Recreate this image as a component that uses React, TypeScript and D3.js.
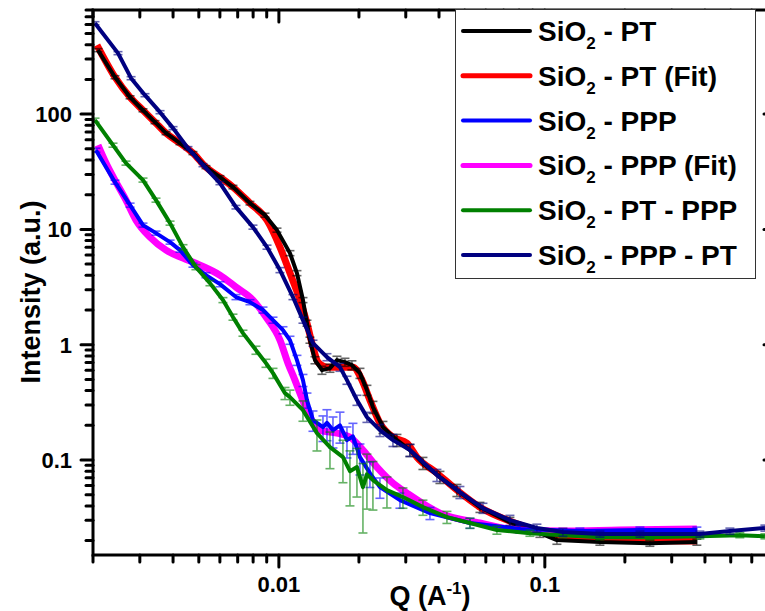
import React from 'react';
import * as d3 from 'd3';

// [q, intensity, relative error]
type Row = [number, number, number];
type FitRow = [number, number];

const ptData: Row[] = [
  [0.002088, 359, 0.03], [0.00242, 209, 0.03], [0.002757, 140, 0.03], [0.003083, 108, 0.03],
  [0.003421, 85.2, 0.03], [0.003764, 68.4, 0.03], [0.004247, 56.0, 0.03], [0.004752, 45.9, 0.03],
  [0.005318, 34.7, 0.03], [0.006003, 28.4, 0.03], [0.006719, 23.3, 0.035], [0.007784, 16.9, 0.035],
  [0.008866, 13.3, 0.04], [0.009836, 9.86, 0.04], [0.011006, 6.23, 0.05], [0.011693, 4.18, 0.05],
  [0.012318, 2.44, 0.05], [0.012751, 1.539, 0.06], [0.013087, 1.096, 0.06], [0.013667, 0.735, 0.07],
  [0.01452, 0.602, 0.08], [0.015562, 0.627, 0.08], [0.016534, 0.735, 0.08], [0.017718, 0.706, 0.08],
  [0.018823, 0.665, 0.09], [0.020175, 0.567, 0.1], [0.021431, 0.404, 0.1], [0.022573, 0.288, 0.12],
  [0.024617, 0.1929, 0.12], [0.027793, 0.1488, 0.12], [0.031104, 0.1219, 0.12], [0.034808, 0.094, 0.12],
  [0.040322, 0.0711, 0.12], [0.046713, 0.0548, 0.12], [0.057019, 0.039, 0.1], [0.07391, 0.0289, 0.1],
  [0.09584, 0.0232, 0.08], [0.11103, 0.0202, 0.08], [0.16108, 0.0194, 0.06], [0.2483, 0.019, 0.06],
  [0.37297, 0.0194, 0.06],
];

const ptFit: FitRow[] = [
  [0.00207, 397], [0.00242, 209], [0.002757, 140], [0.003083, 108], [0.003421, 85.2], [0.003764, 68.4],
  [0.004247, 56.0], [0.004752, 45.9], [0.005318, 34.7], [0.006003, 28.4], [0.006719, 23.3], [0.007784, 16.9],
  [0.009021, 12.04], [0.010094, 7.02], [0.011006, 4.18], [0.012002, 2.44], [0.012751, 1.539], [0.013433, 0.953],
  [0.014029, 0.706], [0.015162, 0.639], [0.016969, 0.639], [0.018988, 0.639], [0.020527, 0.493], [0.021995, 0.331],
  [0.023985, 0.2089], [0.026846, 0.1579], [0.030307, 0.1401], [0.033046, 0.1059], [0.039289, 0.077],
  [0.046713, 0.0548], [0.057019, 0.039], [0.07391, 0.0295], [0.09584, 0.0242], [0.12421, 0.0214],
  [0.19138, 0.0202], [0.37297, 0.0198],
];

const pppData: Row[] = [
  [0.002052, 48.7, 0.04], [0.00242, 25.7, 0.04], [0.002757, 16.25, 0.04], [0.003083, 10.9, 0.04],
  [0.003451, 9.29, 0.04], [0.003897, 7.76, 0.04], [0.004247, 6.61, 0.04], [0.004752, 4.9, 0.04],
  [0.005318, 4.01, 0.05], [0.006003, 3.35, 0.05], [0.006896, 2.59, 0.05], [0.007784, 2.34, 0.05],
  [0.008714, 2.0, 0.06], [0.009502, 1.635, 0.06], [0.01036, 1.338, 0.07], [0.011006, 1.096, 0.08],
  [0.011693, 0.735, 0.1], [0.012318, 0.493, 0.12], [0.012751, 0.331, 0.15], [0.013433, 0.2218, 0.2],
  [0.014646, 0.1929, 0.25], [0.015162, 0.21, 0.3], [0.015972, 0.1816, 0.3], [0.016969, 0.2, 0.3],
  [0.018028, 0.1488, 0.3], [0.018988, 0.16, 0.3], [0.020175, 0.1059, 0.3], [0.021995, 0.077, 0.25],
  [0.023985, 0.0582, 0.2], [0.028519, 0.0449, 0.15], [0.036982, 0.0346, 0.12], [0.052294, 0.0284, 0.1],
  [0.080574, 0.0252, 0.08], [0.13548, 0.0242, 0.06], [0.22782, 0.0247, 0.06], [0.37297, 0.0247, 0.06],
];

const pppFit: FitRow[] = [
  [0.002088, 53.8], [0.002238, 37.6], [0.002441, 25.7], [0.002661, 17.95], [0.002902, 12.04], [0.003275, 8.57],
  [0.003764, 6.61], [0.004359, 5.64], [0.005049, 4.9], [0.006003, 4.01], [0.006896, 3.16], [0.007989, 2.44],
  [0.008943, 1.736], [0.010094, 1.096], [0.010817, 0.692], [0.011493, 0.493], [0.012002, 0.38], [0.013087, 0.2355],
  [0.01427, 0.1816], [0.016534, 0.1711], [0.018502, 0.1579], [0.020705, 0.1219], [0.02337, 0.0868],
  [0.026846, 0.063], [0.030307, 0.0516], [0.040322, 0.0346], [0.057019, 0.0284], [0.078524, 0.0247],
  [0.11695, 0.0242], [0.19138, 0.0247], [0.37297, 0.0252],
];

const ptPppData: Row[] = [
  [0.002035, 88.7, 0.04], [0.002378, 53.8, 0.04], [0.002661, 37.6, 0.04], [0.003083, 26.8, 0.04],
  [0.003451, 17.95, 0.04], [0.003897, 11.34, 0.04], [0.004359, 7.02, 0.05], [0.004877, 4.71, 0.05],
  [0.005506, 3.42, 0.05], [0.006161, 2.44, 0.05], [0.006719, 1.736, 0.06], [0.007326, 1.26, 0.06],
  [0.008199, 0.898, 0.08], [0.008943, 0.692, 0.08], [0.009502, 0.567, 0.1], [0.010541, 0.38, 0.12],
  [0.011006, 0.351, 0.15], [0.012318, 0.271, 0.2], [0.013905, 0.1711, 0.3], [0.015562, 0.1294, 0.35],
  [0.017413, 0.1059, 0.4], [0.018502, 0.08, 0.5], [0.019657, 0.0868, 0.45], [0.020705, 0.0582, 0.6],
  [0.021431, 0.075, 0.5], [0.022573, 0.0669, 0.45], [0.025486, 0.0548, 0.3], [0.029275, 0.0477, 0.2],
  [0.034808, 0.039, 0.15], [0.042839, 0.032, 0.12], [0.052294, 0.0284, 0.1], [0.066044, 0.0247, 0.08],
  [0.087902, 0.0232, 0.06], [0.11695, 0.0223, 0.05], [0.16108, 0.0214, 0.05], [0.2483, 0.0214, 0.05],
  [0.38278, 0.0218, 0.05], [0.54096, 0.0223, 0.05], [0.67206, 0.0218, 0.05],
];

const pppPtData: Row[] = [
  [0.002035, 615, 0.03], [0.002483, 338, 0.03], [0.002781, 205, 0.03], [0.003137, 146, 0.03],
  [0.003573, 104, 0.03], [0.003999, 75.6, 0.03], [0.004551, 50.7, 0.03], [0.005183, 36.1, 0.03],
  [0.006003, 25.2, 0.03], [0.006896, 15.6, 0.035], [0.007989, 10.47, 0.04], [0.009021, 7.02, 0.04],
  [0.010094, 4.44, 0.05], [0.011295, 2.59, 0.05], [0.012318, 1.635, 0.06], [0.013433, 1.032, 0.06],
  [0.015162, 0.781, 0.07], [0.016969, 0.639, 0.08], [0.018028, 0.493, 0.08], [0.019657, 0.331, 0.1],
  [0.021431, 0.2355, 0.1], [0.023985, 0.1816, 0.12], [0.026846, 0.1488, 0.12], [0.031104, 0.1219, 0.12],
  [0.039289, 0.074, 0.12], [0.04794, 0.0526, 0.12], [0.05852, 0.0383, 0.1], [0.07391, 0.0301, 0.1],
  [0.09338, 0.0257, 0.08], [0.11695, 0.0237, 0.08], [0.16108, 0.0228, 0.06], [0.22782, 0.0228, 0.06],
  [0.38278, 0.0228, 0.06], [0.49649, 0.0242, 0.06], [0.67206, 0.0257, 0.06],
];

const legendNames = [' - PT', ' - PT (Fit)', ' - PPP', ' - PPP (Fit)', ' - PT - PPP', ' - PPP - PT'];
const legendColors = ['#000000', '#ff0000', '#0000ff', '#ff00ff', '#008000', '#000080'];
const legendWidths = [4, 5, 4, 5, 4, 4];
const xLabels = ['0.01', '0.1'];
const yLabels = ['0.1', '1', '10', '100'];

const W = 765;
const H = 611;
const L = 93;
const R = 776;
const T = 10;
const B = 555;
const FONT = 'Liberation Sans, Arial, Helvetica, sans-serif';

const x = d3.scaleLog().domain([0.002, 0.74]).range([L, R]);
const y = d3.scaleLog().domain([0.015, 800]).range([B, T]);

const isMajor = (v: number) => Math.abs(Math.log10(v) - Math.round(Math.log10(v))) < 1e-6;

const dataLine = d3.line<Row>().x(d => x(d[0])).y(d => y(d[1]));
const fitLine = d3.line<FitRow>().x(d => x(d[0])).y(d => y(d[1])).curve(d3.curveMonotoneX);

function ErrorBars({ data, color }: { data: Row[]; color: string }) {
  return (
    <g stroke={color} strokeWidth={1.6} opacity={0.6}>
      {data.map((d, i) => {
        const cx = x(d[0]);
        const y1 = y(d[1] * (1 + d[2]));
        const y2 = y(Math.max(d[1] * (1 - d[2]), d[1] * 0.05));
        return (
          <g key={i}>
            <line x1={cx} x2={cx} y1={y1} y2={y2} />
            <line x1={cx - 4.5} x2={cx + 4.5} y1={y1} y2={y1} />
            <line x1={cx - 4.5} x2={cx + 4.5} y1={y2} y2={y2} />
          </g>
        );
      })}
    </g>
  );
}

export default function App() {
  const xt = x.ticks();
  const yt = y.ticks();
  const rowY = (i: number) => 31 + i * 44.8;

  return (
    <svg width={W} height={H} style={{ position: 'fixed', left: 0, top: 0, background: '#fff' }} fontFamily={FONT}>
      <defs>
        <clipPath id="plot">
          <rect x={L} y={T} width={R - L} height={B - T} />
        </clipPath>
      </defs>
      <rect width={W} height={H} fill="#fff" />

      <g clipPath="url(#plot)" fill="none" strokeLinejoin="round">
        <path d={fitLine(ptFit) || ''} stroke="#ff0000" strokeWidth={7} />
        <ErrorBars data={ptData} color="#000000" />
        <path d={dataLine(ptData) || ''} stroke="#000000" strokeWidth={4} />
        <path d={fitLine(pppFit) || ''} stroke="#ff00ff" strokeWidth={7} />
        <ErrorBars data={pppData} color="#0000ff" />
        <path d={dataLine(pppData) || ''} stroke="#0000ff" strokeWidth={4} />
        <ErrorBars data={ptPppData} color="#008000" />
        <path d={dataLine(ptPppData) || ''} stroke="#008000" strokeWidth={4} />
        <ErrorBars data={pppPtData} color="#000080" />
        <path d={dataLine(pppPtData) || ''} stroke="#000080" strokeWidth={4} />
      </g>

      {/* axes */}
      <g stroke="#000" strokeWidth={3} strokeLinecap="round">
        {xt.map((v, i) => {
          const len = isMajor(v) ? 12 : 7;
          return (
            <g key={'x' + i}>
              <line x1={x(v)} x2={x(v)} y1={B} y2={B + len} />
              <line x1={x(v)} x2={x(v)} y1={T} y2={T + len} />
            </g>
          );
        })}
        {yt.map((v, i) => {
          const len = isMajor(v) ? 12 : 7;
          return (
            <g key={'y' + i}>
              <line x1={L} x2={L - len} y1={y(v)} y2={y(v)} />
              <line x1={R} x2={R - len} y1={y(v)} y2={y(v)} />
            </g>
          );
        })}
      </g>
      <rect x={L} y={T} width={R - L} height={B - T} fill="none" stroke="#000" strokeWidth={3} />

      <g fontWeight="bold" fontSize={22} fill="#000">
        {xLabels.map(t => (
          <text key={t} x={x(+t)} y={592} textAnchor="middle">{t}</text>
        ))}
        {yLabels.map(t => (
          <text key={t} x={72} y={y(+t)} dy="0.36em" textAnchor="end">{t}</text>
        ))}
      </g>

      <text x={430} y={605} textAnchor="middle" fontWeight="bold" fontSize={27}>
        Q (A<tspan fontSize={17} dy={-11}>-1</tspan><tspan dy={11}>)</tspan>
      </text>
      <text transform="translate(40,292) rotate(-90)" textAnchor="middle" fontWeight="bold" fontSize={27}>
        Intensity (a.u.)
      </text>

      {/* legend */}
      <rect x={455.5} y={9.5} width={300} height={269} fill="#fff" stroke="#333" strokeWidth={1} />
      {legendNames.map((n, i) => (
        <g key={n}>
          <line x1={463} x2={530} y1={rowY(i)} y2={rowY(i)} stroke={legendColors[i]} strokeWidth={legendWidths[i]} strokeLinecap="round" />
          <text x={538} y={rowY(i) + 10} fontWeight="bold" fontSize={28} style={{ whiteSpace: 'pre' }}>
            SiO<tspan fontSize={17} dy={8}>2</tspan><tspan dy={-8}>{n}</tspan>
          </text>
        </g>
      ))}
    </svg>
  );
}
